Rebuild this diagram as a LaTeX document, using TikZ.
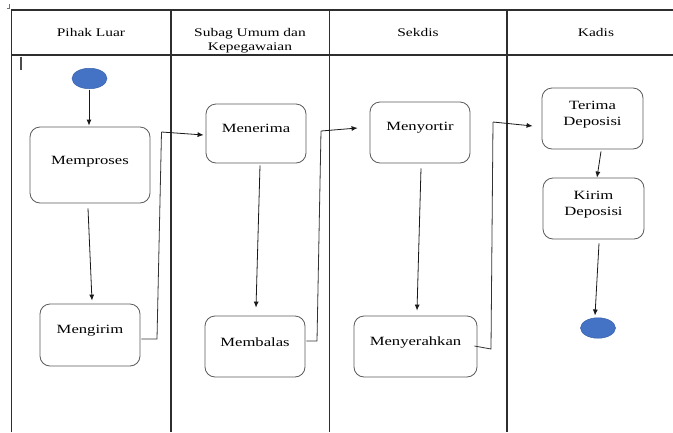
\documentclass[tikz,border=0pt]{standalone}
\usepackage{fontspec}
\setmainfont{Liberation Serif}
\newfontfamily\wideserif[FakeStretch=1.32]{Liberation Serif}
\usetikzlibrary{arrows.meta,calc,shapes.geometric}
\definecolor{lane}{HTML}{2E2E2E}
\definecolor{boxline}{HTML}{5A5A5A}
\definecolor{dotfill}{HTML}{4472C4}
\definecolor{dotline}{HTML}{3A62AA}
\begin{document}
\begin{tikzpicture}[x=1pt,y=-1pt,
  lanerule/.style={draw=lane,line width=1.1pt},
  head/.style={font=\wideserif\fontsize{11.7}{14}\selectfont,align=center,text=black},
  actbox/.style={draw=boxline,line width=0.8pt,rounded corners=10pt,inner sep=0pt},
  lbl/.style={font=\wideserif\fontsize{12.6}{16}\selectfont,align=center,text=black},
  dot/.style={ellipse,draw=dotline,fill=dotfill,line width=0.5pt,inner sep=0pt,minimum width=35pt,minimum height=20.5pt},
  flow/.style={draw=black!90,line width=0.8pt,-{Latex[length=6pt,width=5pt]}},
  link/.style={draw=black!80,line width=0.8pt},
]
\useasboundingbox (0,0) rectangle (673,432);

% swimlane frame
\draw[lanerule] (11.5,432) -- (11.5,10) -- (673,10);
\draw[lanerule] (11.5,55) -- (673,55);
\draw[lanerule] (171,10) -- (171,432);
\draw[lanerule] (329.5,10) -- (329.5,432);
\draw[lanerule] (507,10) -- (507,432);

% small editing marks
\draw[black!55,line width=0.5pt] (6.5,8.5) -- (9.5,8.5) -- (9.5,4);
\draw[black!70,line width=1.3pt] (21,56.5) -- (21,70);

% lane titles
\node[head] (h1) at (91,32.5) {Pihak Luar};
\node[head] (h2) at (250,40.5) {Subag Umum dan\\Kepegawaian};
\node[head] (h3) at (418,32.5) {Sekdis};
\node[head] (h4) at (596,32.5) {Kadis};

% start / end markers
\node[dot] (start) at (89.5,78.5) {};
\node[dot] (stop) at (598,328) {};

% activities
\node[actbox,minimum width=120pt,minimum height=76pt,label={[lbl,yshift=3pt]center:Memproses}] (proc) at (90,165) {};
\node[actbox,minimum width=100pt,minimum height=62pt,label={[lbl,yshift=4pt]center:Mengirim}] (send) at (90,335) {};
\node[actbox,minimum width=100pt,minimum height=59pt,label={[lbl,yshift=5pt]center:Menerima}] (recv) at (256,133.5) {};
\node[actbox,minimum width=100pt,minimum height=61pt,label={[lbl,yshift=4.5pt]center:Membalas}] (reply) at (255,346.5) {};
\node[actbox,minimum width=100pt,minimum height=61pt,label={[lbl,yshift=4.5pt]center:Menyortir}] (sort) at (420,132.5) {};
\node[actbox,minimum width=123pt,minimum height=61pt,label={[lbl,yshift=4.5pt]center:Menyerahkan}] (hand) at (415.5,346.5) {};
\node[actbox,minimum width=101pt,minimum height=61pt,label={[lbl,yshift=3.5pt]center:Terima\\Deposisi}] (tdep) at (592.5,118.5) {};
\node[actbox,minimum width=101pt,minimum height=61pt,label={[lbl,yshift=4pt]center:Kirim\\Deposisi}] (kdep) at (593.5,208.5) {};

% flow within lanes
\draw[flow] ($(start.south)+(-0.5,1)$) -- ($(proc.north)+(-1,-1)$);
\draw[flow] ($(proc.south)+(-2,5)$) -- ($(send.north)+(2,-3)$);
\draw[flow] ($(recv.south)+(4,2)$) -- ($(reply.north)+(1,-8)$);
\draw[flow] ($(sort.south)+(1,5)$) -- ($(hand.north)+(1.5,-5)$);
\draw[flow] ($(tdep.south)+(8.5,2)$) -- ($(kdep.north)+(3.5,0)$);
\draw[flow] ($(kdep.south)+(5.5,4)$) -- ($(stop.north)+(-3,-2)$);

% hand-offs between lanes
\draw[link] ($(send.east)+(1,4)$) -- (157,339) -- (161.5,132);
\draw[flow] (161.5,132) -- ($(recv.west)+(-2,1.5)$);
\draw[link] ($(reply.east)+(1,-5.5)$) -- (317,341) -- (321,131);
\draw[flow] (321,131) -- ($(sort.west)+(-12,-4.5)$);
\draw[link] ($(hand.east)+(-3,-0.5)$) -- (491,349) -- (493,122);
\draw[flow] (493,122) -- ($(tdep.west)+(-9,7.5)$);
\end{tikzpicture}
\end{document}
